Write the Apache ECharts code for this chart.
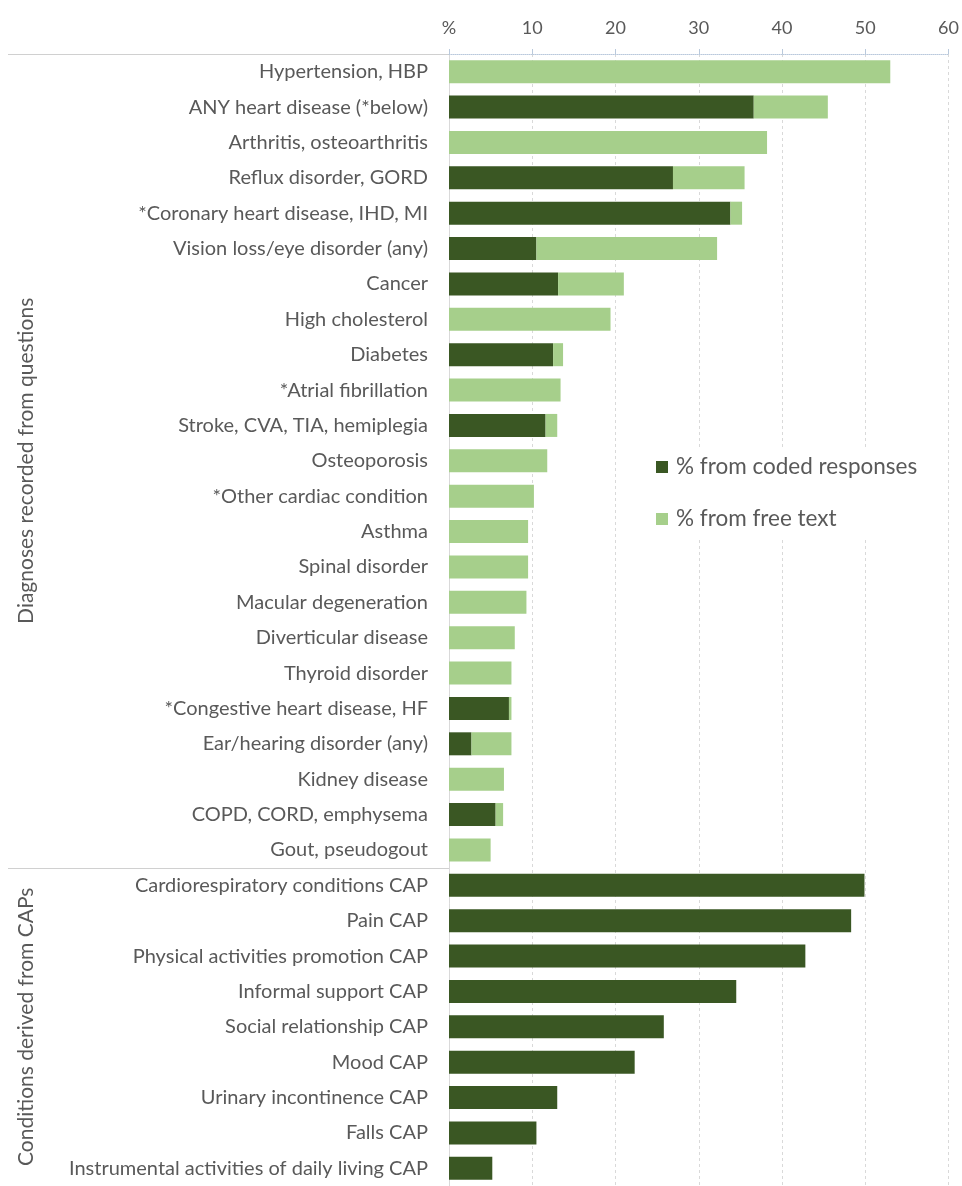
<!DOCTYPE html>
<html>
<head>
<meta charset="utf-8">
<script src="https://cdn.jsdelivr.net/npm/echarts@6/dist/echarts.min.js"></script>
<style>
html,body{margin:0;padding:0;background:#fff;}
#chart{width:962px;height:1186px;}
</style>
</head>
<body>
<div id="chart"></div>
<script>
var categories = [
  'Hypertension, HBP',
  'ANY heart disease (*below)',
  'Arthritis, osteoarthritis',
  'Reflux disorder, GORD',
  '*Coronary heart disease, IHD, MI',
  'Vision loss/eye disorder (any)',
  'Cancer',
  'High cholesterol',
  'Diabetes',
  '*Atrial fibrillation',
  'Stroke, CVA, TIA, hemiplegia',
  'Osteoporosis',
  '*Other cardiac condition',
  'Asthma',
  'Spinal disorder',
  'Macular degeneration',
  'Diverticular disease',
  'Thyroid disorder',
  '*Congestive heart disease, HF',
  'Ear/hearing disorder (any)',
  'Kidney disease',
  'COPD, CORD, emphysema',
  'Gout, pseudogout',
  'Cardiorespiratory conditions CAP',
  'Pain CAP',
  'Physical activities promotion CAP',
  'Informal support CAP',
  'Social relationship CAP',
  'Mood CAP',
  'Urinary incontinence CAP',
  'Falls CAP',
  'Instrumental activities of daily living CAP'
];
var codedValues = [0, 36.6, 0, 26.9, 33.8, 10.5, 13.1, 0, 12.5, 0, 11.6, 0, 0, 0, 0, 0, 0, 0, 7.2, 2.7, 0, 5.6, 0,
  49.9, 48.3, 42.8, 34.5, 25.8, 22.3, 13.0, 10.5, 5.2];
var freeTextValues = [53.0, 8.9, 38.2, 8.6, 1.4, 21.7, 7.9, 19.4, 1.2, 13.4, 1.4, 11.8, 10.2, 9.5, 9.5, 9.3, 7.9, 7.5, 0.3, 4.8, 6.6, 0.9, 5.0,
  0, 0, 0, 0, 0, 0, 0, 0, 0];
var seriesNames = ['% from coded responses', '% from free text'];
var xTicks = [0, 10, 20, 30, 40, 50, 60];
var groupLabels = ['Diagnoses recorded from questions', 'Conditions derived from CAPs'];
var groupSizes = [23, 9];

var FONT = 'Lato';
var GRAY = '#595959';
var chart = echarts.init(document.getElementById('chart'), null, {renderer: 'canvas'});
var option = {
  animation: false,
  backgroundColor: '#fff',
  textStyle: {fontFamily: FONT},
  grid: {left: 449, right: 11, top: 54, height: 1134, containLabel: false},
  legend: {
    orient: 'vertical',
    left: 648,
    top: 449,
    itemWidth: 12,
    itemHeight: 12,
    itemGap: 28,
    icon: 'rect',
    backgroundColor: '#fff',
    padding: [6, 8, 8, 8],
    textStyle: {fontFamily: FONT, fontSize: 22.5, lineHeight: 24, color: GRAY, padding: [0, 0, 0, 3]},
    data: seriesNames
  },
  xAxis: {
    type: 'value',
    position: 'top',
    min: xTicks[0],
    max: xTicks[xTicks.length - 1],
    interval: 10,
    axisLine: {show: true, lineStyle: {color: '#b9c9dc', type: 'dotted', width: 1}},
    axisTick: {show: true, length: 5, lineStyle: {color: '#b9c9dc'}},
    axisLabel: {
      fontFamily: FONT, fontSize: 18, color: GRAY, margin: 17,
      formatter: function (v) { return v === 0 ? '%' : String(v); }
    },
    splitLine: {show: true, lineStyle: {color: '#d9d9d9', type: [3, 3], width: 1}}
  },
  yAxis: {
    type: 'category',
    inverse: true,
    data: categories,
    axisLine: {show: true, lineStyle: {color: '#d9d9d9'}},
    axisTick: {show: false},
    axisLabel: {fontFamily: FONT, fontSize: 20, color: GRAY, margin: 21}
  },
  series: [
    {
      name: seriesNames[0], type: 'bar', stack: 'total', barWidth: 23,
      itemStyle: {color: '#3a5723'},
      data: codedValues
    },
    {
      name: seriesNames[1], type: 'bar', stack: 'total', barWidth: 23,
      itemStyle: {color: '#a6cf8b'},
      data: freeTextValues
    }
  ]
};
chart.setOption(option);

// group separators and rotated group labels, placed with the axis scale
function boundaryY(i) {
  var c = chart.convertToPixel({yAxisIndex: 0}, i);
  var step = chart.convertToPixel({yAxisIndex: 0}, 1) - chart.convertToPixel({yAxisIndex: 0}, 0);
  return c - step / 2;
}
var graphics = [];
var start = 0;
for (var g = 0; g < groupSizes.length; g++) {
  var yTop = boundaryY(start);
  var yBot = boundaryY(start + groupSizes[g]);
  graphics.push({
    type: 'line', silent: true,
    shape: {x1: 8, y1: Math.round(yTop) + 0.5, x2: 449, y2: Math.round(yTop) + 0.5},
    style: {stroke: '#d0d0d0', lineWidth: 1}
  });
  graphics.push({
    type: 'text', silent: true,
    x: 26, y: (yTop + Math.min(yBot, 1186)) / 2,
    rotation: Math.PI / 2,
    style: {text: groupLabels[g], fontFamily: FONT, fontSize: 21, fill: GRAY, align: 'center', verticalAlign: 'middle'}
  });
  start += groupSizes[g];
}
chart.setOption({graphic: graphics});
</script>
</body>
</html>
